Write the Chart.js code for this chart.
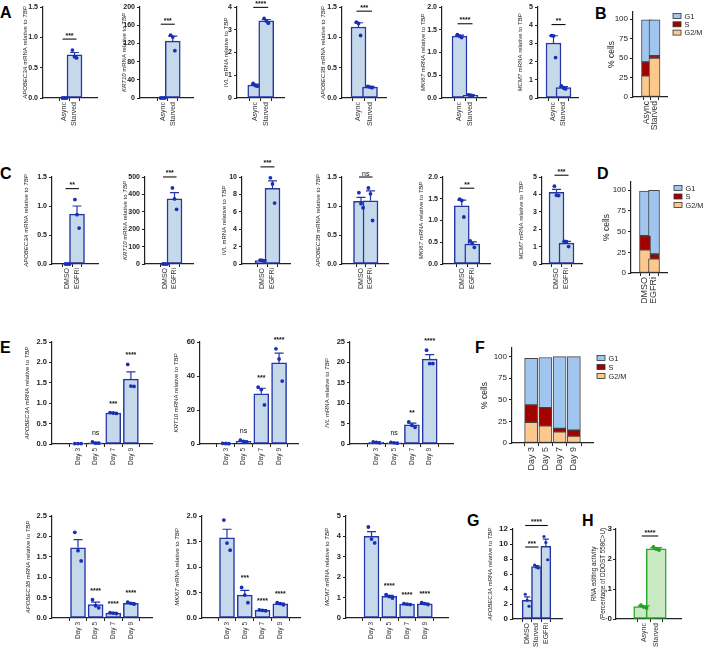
<!DOCTYPE html>
<html>
<head>
<meta charset="utf-8">
<script src="https://cdn.jsdelivr.net/npm/chart.js@4.4.0/dist/chart.umd.min.js"></script>
<style>
  body { margin: 0; background: #fff; width: 705px; height: 648px; position: relative; overflow: hidden; font-family: "Liberation Sans", Arial, sans-serif; }
  canvas { position: absolute; }
  .lbl { position: absolute; font-weight: bold; font-size: 16px; line-height: 1; color: #000; }
</style>
</head>
<body>
<div class="lbl" style="left:0px;top:5px">A</div>
<div class="lbl" style="left:595px;top:6px">B</div>
<div class="lbl" style="left:0px;top:166px">C</div>
<div class="lbl" style="left:597px;top:166px">D</div>
<div class="lbl" style="left:0px;top:340px">E</div>
<div class="lbl" style="left:475px;top:340px">F</div>
<div class="lbl" style="left:467px;top:513px">G</div>
<div class="lbl" style="left:582px;top:513px">H</div>
<script>
// ---- data ----
const phases = ['G1', 'S', 'G2/M'];

// A: async vs starved
const groupsA = ['Async', 'Starved'];
const genesA = ['APOBEC3A', 'KRT10', 'IVL', 'APOBEC3B', 'MKI67', 'MCM7'];
const meanA = [[0, 0.71], [0, 125], [0.57, 3.39], [1.17, 0.18], [1.36, 0.06], [3.02, 0.57]];
const semA = [[0, 0.04], [0, 11], [0.04, 0.06], [0.07, 0.01], [0.02, 0.01], [0.40, 0.05]];
const dotsA = [
    [[0, 0, 0], [0.79, 0.68, 0.66]],
    [[0, 0, 0], [138, 134, 104]],
    [[0.64, 0.55, 0.52], [3.5, 3.38, 3.29]],
    [[1.25, 1.23, 1.03], [0.19, 0.18, 0.17]],
    [[1.39, 1.36, 1.33], [0.07, 0.06, 0.05]],
    [[3.43, 3.41, 2.22], [0.66, 0.55, 0.5]]
];
const sigA = ['***', '***', '****', '***', '****', '**'];
const yMaxA = [1.5, 200, 4, 1.5, 2, 5];
const yStepA = [0.5, 40, 1, 0.5, 0.5, 1];

// B: cell cycle
const g2mB = [27, 50];
const sB = [18, 3];
const g1B = [54, 46];

// C: DMSO vs EGFRi
const groupsC = ['DMSO', 'EGFRi'];
const genesC = ['APOBEC3A', 'KRT10', 'IVL', 'APOBEC3B', 'MKI67', 'MCM7'];
const meanC = [[0, 0.86], [0, 375], [0.4, 8.7], [1.08, 1.09], [1.34, 0.46], [4.12, 1.2]];
const semC = [[0, 0.14], [0, 35], [0.05, 0.85], [0.07, 0.17], [0.13, 0.05], [0.17, 0.1]];
const dotsC = [
    [[0, 0, 0], [1.11, 0.85, 0.62]],
    [[0, 0, 0], [437, 374, 314]],
    [[0.45, 0.4, 0.35], [9.9, 9.2, 7.0]],
    [[1.23, 1.04, 0.97], [1.31, 1.21, 0.75]],
    [[1.49, 1.46, 1.08], [0.53, 0.47, 0.38]],
    [[4.47, 3.95, 3.93], [1.3, 1.29, 1.0]]
];
const sigC = ['**', '***', '***', 'ns', '**', '***'];
const yMaxC = [1.5, 500, 10, 1.5, 2, 5];
const yStepC = [0.5, 100, 2, 0.5, 0.5, 1];

// D: cell cycle
const g2mD = [28, 17];
const sD = [17, 6];
const g1D = [54, 77];

// E: differentiation time course
const days = ['Day 3', 'Day 5', 'Day 7', 'Day 9'];
const genesE1 = ['APOBEC3A', 'KRT10', 'IVL'];
const meanE1 = [[0.01, 0.03, 0.76, 1.59], [0.3, 1.6, 29.5, 47.7], [0.4, 0.3, 4.7, 20.8]];
const semE1 = [[0, 0.01, 0.01, 0.18], [0.05, 0.3, 3.3, 5.8], [0.05, 0.05, 0.4, 1.1]];
const dotsE1 = [
    [[0.01, 0.01, 0.01], [0.05, 0.02, 0.02], [0.77, 0.76, 0.75], [1.95, 1.42, 1.41]],
    [[0.4, 0.3, 0.2], [2.2, 1.5, 1.1], [33.5, 32, 23], [56, 50, 37]],
    [[0.5, 0.4, 0.3], [0.4, 0.3, 0.2], [5.4, 4.6, 4.1], [23, 19.7, 19.7]]
];
const sigE1 = [['', 'ns', '***', '****'], ['', 'ns', '***', '****'], ['', 'ns', '**', '****']];
const yMaxE1 = [2.5, 60, 25];
const yStepE1 = [0.5, 20, 5];

const genesE2 = ['APOBEC3B', 'MKI67', 'MCM7'];
const meanE2 = [[1.72, 0.33, 0.12, 0.36], [1.57, 0.45, 0.15, 0.28], [4.0, 1.06, 0.68, 0.7]];
const semE2 = [[0.2, 0.06, 0.01, 0.02], [0.17, 0.09, 0.01, 0.01], [0.23, 0.05, 0.01, 0.03]];
const dotsE2 = [
    [[2.1, 1.65, 1.4], [0.45, 0.3, 0.25], [0.13, 0.12, 0.11], [0.39, 0.36, 0.34]],
    [[1.92, 1.47, 1.33], [0.6, 0.45, 0.3], [0.16, 0.15, 0.14], [0.3, 0.28, 0.26]],
    [[4.46, 3.87, 3.68], [1.15, 1.05, 0.98], [0.7, 0.68, 0.66], [0.75, 0.7, 0.66]]
];
const sigE2 = [['', '****', '****', '****'], ['', '***', '****', '****'], ['', '****', '****', '****']];
const yMaxE2 = [2.5, 2, 5];
const yStepE2 = [0.5, 0.5, 1];

// F: cell cycle over days
const g2mF = [24, 20, 13, 8];
const sF = [20, 21, 4, 7];
const g1F = [54, 58, 83, 85];

// G: APOBEC3A across conditions
const groupsG = ['DMSO', 'Starved', 'EGFRi'];
const meanG = [2.5, 7.0, 9.7];
const semG = [0.45, 0.12, 0.95];
const dotsG = [[3.3, 2.5, 1.7], [7.2, 6.9, 6.8], [11.0, 10.2, 7.9]];
const sigG = [[0, 1, '***'], [0, 2, '****']];

// H: RNA editing
const groupsH = ['Async', 'Starved'];
const meanH = [0.41, 2.34];
const semH = [0.03, 0.04];
const dotsH = [[0.46, 0.4, 0.37], [2.4, 2.33, 2.3]];
const sigH = [[0, 1, '****']];

// ---- drawing ----
const FONT = '"Liberation Sans", Arial, sans-serif';
const font = (size, bold, italic) => `${italic ? 'italic ' : ''}${bold ? 'bold ' : ''}${size}px ${FONT}`;
const BLUE = { fill: '#c5d9eb', stroke: '#2436a8', dot: '#1a2fb4' };
const GREEN = { fill: '#c9e9c3', stroke: '#2aa82a', dot: '#23a023' };
const CYCLE = { G1: '#a0c6f0', S: '#a30000', 'G2/M': '#fdc78e' };

const geneTitle = g => [[{ t: g, i: true }, { t: ' mRNA relative to ' }, { t: 'TBP', i: true }]];

function drawTitle(ctx, x, yc, lines, size) {
    ctx.save();
    ctx.translate(x, yc);
    ctx.rotate(-Math.PI / 2);
    ctx.fillStyle = '#222';
    ctx.textBaseline = 'middle';
    ctx.textAlign = 'left';
    lines.forEach((segs, li) => {
        let w = 0;
        segs.forEach(s => { ctx.font = font(size, false, s.i); w += ctx.measureText(s.t).width; });
        let cx = -w / 2;
        const dy = (li - (lines.length - 1) / 2) * size * 1.35;
        segs.forEach(s => {
            ctx.font = font(size, false, s.i);
            ctx.fillText(s.t, cx, dy);
            cx += ctx.measureText(s.t).width;
        });
    });
    ctx.restore();
}

function makeCanvas(p) {
    const yW = p.yW ?? (p.axisX - p.titleX + 6);
    const padTop = p.padTop ?? 24, padRight = p.padRight ?? 6;
    const W = yW + (p.right - p.axisX) + padRight;
    const H = padTop + (p.bottom - p.top) + p.xH;
    const cv = document.createElement('canvas');
    cv.width = W; cv.height = H;
    cv.style.left = (p.axisX - yW) + 'px';
    cv.style.top = (p.top - padTop) + 'px';
    cv.style.width = W + 'px'; cv.style.height = H + 'px';
    document.body.appendChild(cv);
    return { cv, yW, padTop, padRight, left: p.axisX - yW, top: p.top - padTop };
}

function scaleOpts(p, g, labels, d) {
    const dec = d.yStep < 1 ? 1 : 0;
    const tickMax = d.tickMax ?? d.yMax;
    return {
        x: {
            type: 'linear',
            min: -(p.c0 - p.axisX) / p.sp,
            max: (p.right - p.c0) / p.sp,
            stacked: !!d.stacked,
            afterBuildTicks: s => { s.ticks = labels.map((_, i) => ({ value: i })); },
            afterFit: s => { s.height = p.xH; },
            ticks: {
                callback: v => labels[v] ?? '',
                autoSkip: false, minRotation: 90, maxRotation: 90, padding: 1,
                font: { size: p.xFont, family: FONT }, color: '#333'
            },
            grid: { drawOnChartArea: false, drawTicks: true, tickLength: 3, color: '#222', lineWidth: 1 },
            border: { display: true, color: '#222', width: 1.2 }
        },
        y: {
            type: 'linear', min: 0, max: d.yMax,
            stacked: !!d.stacked,
            afterBuildTicks: s => {
                const t = [];
                for (let k = 0; k * d.yStep <= tickMax + 1e-9; k++) t.push({ value: +(k * d.yStep).toFixed(6) });
                s.ticks = t;
            },
            afterFit: s => { s.width = g.yW; },
            ticks: {
                stepSize: d.yStep, padding: p.yPad ?? 2,
                callback: v => Number(v).toFixed(dec),
                font: { size: p.yFont, weight: p.yBold ? 'bold' : 'normal', family: FONT }, color: '#222'
            },
            grid: { drawOnChartArea: false, drawTicks: true, tickLength: 3, color: '#222', lineWidth: 1 },
            border: { display: true, color: '#222', width: 1.2 }
        }
    };
}

function barPanel(p, d) {
    const g = makeCanvas(p);
    const col = d.color || BLUE;
    const jit = (p.bw * 0.28) / p.sp;
    const offs = [-jit, 0, jit];
    const dotPts = [];
    d.dots.forEach((arr, i) => arr.forEach((v, k) => dotPts.push({ x: i + offs[k], y: v })));
    const topVal = i => Math.max(d.means[i] + (d.sems[i] || 0), ...d.dots[i]);
    const gap = p.bracketGap ?? 11;

    const annot = {
        id: 'annot',
        afterDatasetDraw(chart, args) {
            if (args.meta.type !== 'bar') return;
            const { ctx, scales: { x, y } } = chart;
            ctx.save();
            ctx.strokeStyle = col.stroke;
            ctx.lineWidth = 1.2;
            d.means.forEach((m, i) => {
                const s = d.sems[i];
                if (!s) return;
                const px = x.getPixelForValue(i);
                const y0 = y.getPixelForValue(m), y1 = y.getPixelForValue(m + s);
                const cap = p.bw * 0.3;
                ctx.beginPath();
                ctx.moveTo(px, y0); ctx.lineTo(px, y1);
                ctx.moveTo(px - cap, y1); ctx.lineTo(px + cap, y1);
                ctx.stroke();
            });
            ctx.restore();
        },
        afterDraw(chart) {
            const { ctx, scales: { x, y }, chartArea } = chart;
            drawTitle(ctx, p.titleX - g.left, (chartArea.top + chartArea.bottom) / 2, d.title, p.titleSize || 6);
            ctx.save();
            ctx.fillStyle = '#111';
            ctx.strokeStyle = '#111';
            ctx.textAlign = 'center';
            ctx.textBaseline = 'alphabetic';
            let prevY = Infinity;
            (d.brackets || []).forEach(([a, b, txt], bi) => {
                let yy = Infinity;
                for (let i = a; i <= b; i++) yy = Math.min(yy, y.getPixelForValue(topVal(i)) - (bi ? 11 : gap));
                yy = Math.min(yy, prevY - 20);
                prevY = yy;
                const xa = x.getPixelForValue(a) - 2, xb = x.getPixelForValue(b) + 2;
                ctx.lineWidth = 1.1;
                ctx.beginPath(); ctx.moveTo(xa, yy); ctx.lineTo(xb, yy); ctx.stroke();
                ctx.font = font(7, txt !== 'ns');
                ctx.fillText(txt, (xa + xb) / 2, yy - 1.5);
            });
            (d.stars || []).forEach((txt, i) => {
                if (!txt) return;
                const yy = y.getPixelForValue(topVal(i)) - 7;
                ctx.font = font(7, txt !== 'ns');
                ctx.fillText(txt, x.getPixelForValue(i), yy);
            });
            ctx.restore();
        }
    };

    new Chart(g.cv, {
        type: 'bar',
        data: {
            datasets: [
                {
                    type: 'scatter', data: dotPts, order: 0, clip: false,
                    pointRadius: p.dotR || 1.9, pointBackgroundColor: col.dot, pointBorderWidth: 0
                },
                {
                    type: 'bar', data: d.means.map((m, i) => ({ x: i, y: m })), order: 1, clip: false,
                    backgroundColor: col.fill, borderColor: col.stroke, borderWidth: 1.5,
                    borderSkipped: false, barThickness: p.bw
                }
            ]
        },
        options: {
            responsive: false, animation: false, events: [],
            layout: { padding: { top: g.padTop, right: g.padRight, left: 0, bottom: 0 } },
            plugins: { legend: { display: false }, tooltip: { enabled: false } },
            scales: scaleOpts(p, g, d.labels, d)
        },
        plugins: [annot]
    });
}

function cyclePanel(p, d) {
    const g = makeCanvas(p);
    const series = [['G2/M', d.g2m], ['S', d.s], ['G1', d.g1]];
    const annot = {
        id: 'annot',
        afterDraw(chart) {
            const { ctx, chartArea } = chart;
            drawTitle(ctx, p.titleX - g.left, (chartArea.top + chartArea.bottom) / 2, [[{ t: '% cells' }]], 8.5);
            ctx.save();
            ctx.font = font(7.3);
            ctx.textBaseline = 'middle';
            ctx.textAlign = 'left';
            phases.forEach((ph, i) => {
                const bx = p.legX - g.left, by = p.legY + i * p.legStep - g.top;
                ctx.fillStyle = CYCLE[ph];
                ctx.fillRect(bx, by - 2.5, 8, 5);
                ctx.strokeStyle = '#333'; ctx.lineWidth = 0.8;
                ctx.strokeRect(bx, by - 2.5, 8, 5);
                ctx.fillStyle = '#222';
                ctx.fillText(ph, bx + 11.5, by + 0.5);
            });
            ctx.restore();
        }
    };
    new Chart(g.cv, {
        type: 'bar',
        data: {
            datasets: series.map(([ph, vals]) => ({
                label: ph,
                data: vals.map((v, i) => ({ x: i, y: v })),
                backgroundColor: CYCLE[ph], borderColor: '#444', borderWidth: 1,
                borderSkipped: false, barThickness: p.bw
            }))
        },
        options: {
            responsive: false, animation: false, events: [],
            layout: { padding: { top: g.padTop, right: g.padRight, left: 0, bottom: 0 } },
            plugins: { legend: { display: false }, tooltip: { enabled: false } },
            scales: scaleOpts(p, g, d.labels, { yMax: d.yMax, yStep: 25, tickMax: 100, stacked: true })
        },
        plugins: [annot]
    });
}

// ---- layout ----
const rowA = { top: 7, bottom: 98, xH: 42, xFont: 7, yFont: 7, yBold: true, bw: 15 };
const layA = [
    { axisX: 43, right: 97, c0: 59, sp: 20, titleX: 25 },
    { axisX: 140, right: 193, c0: 159, sp: 20, titleX: 124 },
    { axisX: 237, right: 284, c0: 250, sp: 22, titleX: 226 },
    { axisX: 342, right: 386, c0: 353, sp: 23, titleX: 323 },
    { axisX: 442, right: 486, c0: 455, sp: 22, titleX: 423 },
    { axisX: 538, right: 578, c0: 549, sp: 20, titleX: 520 }
];
const rowC = { top: 177, bottom: 264, xH: 30, xFont: 7, yFont: 7, yBold: true, bw: 15 };
const layC = [
    { axisX: 52, right: 98, c0: 60, sp: 19, titleX: 26 },
    { axisX: 145, right: 193, c0: 161, sp: 19, titleX: 125 },
    { axisX: 242, right: 290, c0: 259, sp: 20, titleX: 224 },
    { axisX: 342, right: 388, c0: 357, sp: 19, titleX: 318 },
    { axisX: 443, right: 490, c0: 457, sp: 21, titleX: 421 },
    { axisX: 542, right: 582, c0: 551, sp: 20, titleX: 521 }
];
const rowE1 = { top: 342, bottom: 444, xH: 26, xFont: 6.5, yFont: 7.5, yBold: true, bw: 15 };
const layE1 = [
    { axisX: 52, right: 152, c0: 70, sp: 23.5, titleX: 27 },
    { axisX: 200, right: 298, c0: 218, sp: 23.7, titleX: 176 },
    { axisX: 350, right: 453, c0: 368, sp: 23.7, titleX: 327 }
];
const rowE2 = { top: 516, bottom: 618, xH: 26, xFont: 6.5, yFont: 7.5, yBold: true, bw: 15 };
const layE2 = [
    { axisX: 52, right: 152, c0: 70, sp: 23.5, titleX: 28 },
    { axisX: 202, right: 300, c0: 219, sp: 23.7, titleX: 177 },
    { axisX: 346, right: 448, c0: 363, sp: 23.7, titleX: 327 }
];

genesA.forEach((gene, i) => barPanel({ ...rowA, ...layA[i] }, {
    labels: groupsA, means: meanA[i], sems: semA[i], dots: dotsA[i],
    yMax: yMaxA[i], yStep: yStepA[i], title: geneTitle(gene), brackets: [[0, 1, sigA[i]]]
}));
genesC.forEach((gene, i) => barPanel({ ...rowC, ...layC[i] }, {
    labels: groupsC, means: meanC[i], sems: semC[i], dots: dotsC[i],
    yMax: yMaxC[i], yStep: yStepC[i], title: geneTitle(gene), brackets: [[0, 1, sigC[i]]]
}));
genesE1.forEach((gene, i) => barPanel({ ...rowE1, ...layE1[i] }, {
    labels: days, means: meanE1[i], sems: semE1[i], dots: dotsE1[i],
    yMax: yMaxE1[i], yStep: yStepE1[i], title: geneTitle(gene), stars: sigE1[i]
}));
genesE2.forEach((gene, i) => barPanel({ ...rowE2, ...layE2[i] }, {
    labels: days, means: meanE2[i], sems: semE2[i], dots: dotsE2[i],
    yMax: yMaxE2[i], yStep: yStepE2[i], title: geneTitle(gene), stars: sigE2[i]
}));

barPanel({ top: 529, bottom: 619, xH: 28, xFont: 7, yFont: 8, yBold: true, bw: 10,
    axisX: 513, right: 562, c0: 522, sp: 14, titleX: 490, dotR: 1.6, bracketGap: 18 }, {
    labels: groupsG, means: meanG, sems: semG, dots: dotsG,
    yMax: 12, yStep: 2, title: geneTitle('APOBEC3A'), brackets: sigG
});
barPanel({ top: 529, bottom: 619, xH: 28, xFont: 7, yFont: 8, yBold: true, bw: 20, yPad: 1, yW: 26,
    axisX: 616, right: 681, c0: 639, sp: 25, titleX: 599, titleSize: 6.3 }, {
    labels: groupsH, means: meanH, sems: semH, dots: dotsH, color: GREEN,
    yMax: 3, yStep: 1, brackets: sigH,
    title: [[{ t: 'RNA editing activity' }], [{ t: '(Percentage of DDOST 558C>U)' }]]
});

cyclePanel({ top: 12, bottom: 97, xH: 40, xFont: 8.5, yFont: 8, yBold: false, bw: 11,
    axisX: 633, right: 667, c0: 644, sp: 15, titleX: 612, padRight: 38,
    legX: 673, legY: 16, legStep: 8.3 }, { labels: groupsA, g2m: g2mB, s: sB, g1: g1B, yMax: 109 });
cyclePanel({ top: 182, bottom: 273, xH: 30, xFont: 9, yFont: 8, yBold: false, bw: 11,
    axisX: 631, right: 667, c0: 641, sp: 18, titleX: 607, padRight: 38,
    legX: 674, legY: 188, legStep: 8.5 }, { labels: groupsC, g2m: g2mD, s: sD, g1: g1D, yMax: 110 });
cyclePanel({ top: 348, bottom: 443, xH: 32, xFont: 9, yFont: 8, yBold: false, bw: 13,
    axisX: 512, right: 593, c0: 524, sp: 19, titleX: 485, padRight: 40,
    legX: 597, legY: 358, legStep: 9 }, { labels: days, g2m: g2mF, s: sF, g1: g1F, yMax: 110 });
</script>
</body>
</html>
